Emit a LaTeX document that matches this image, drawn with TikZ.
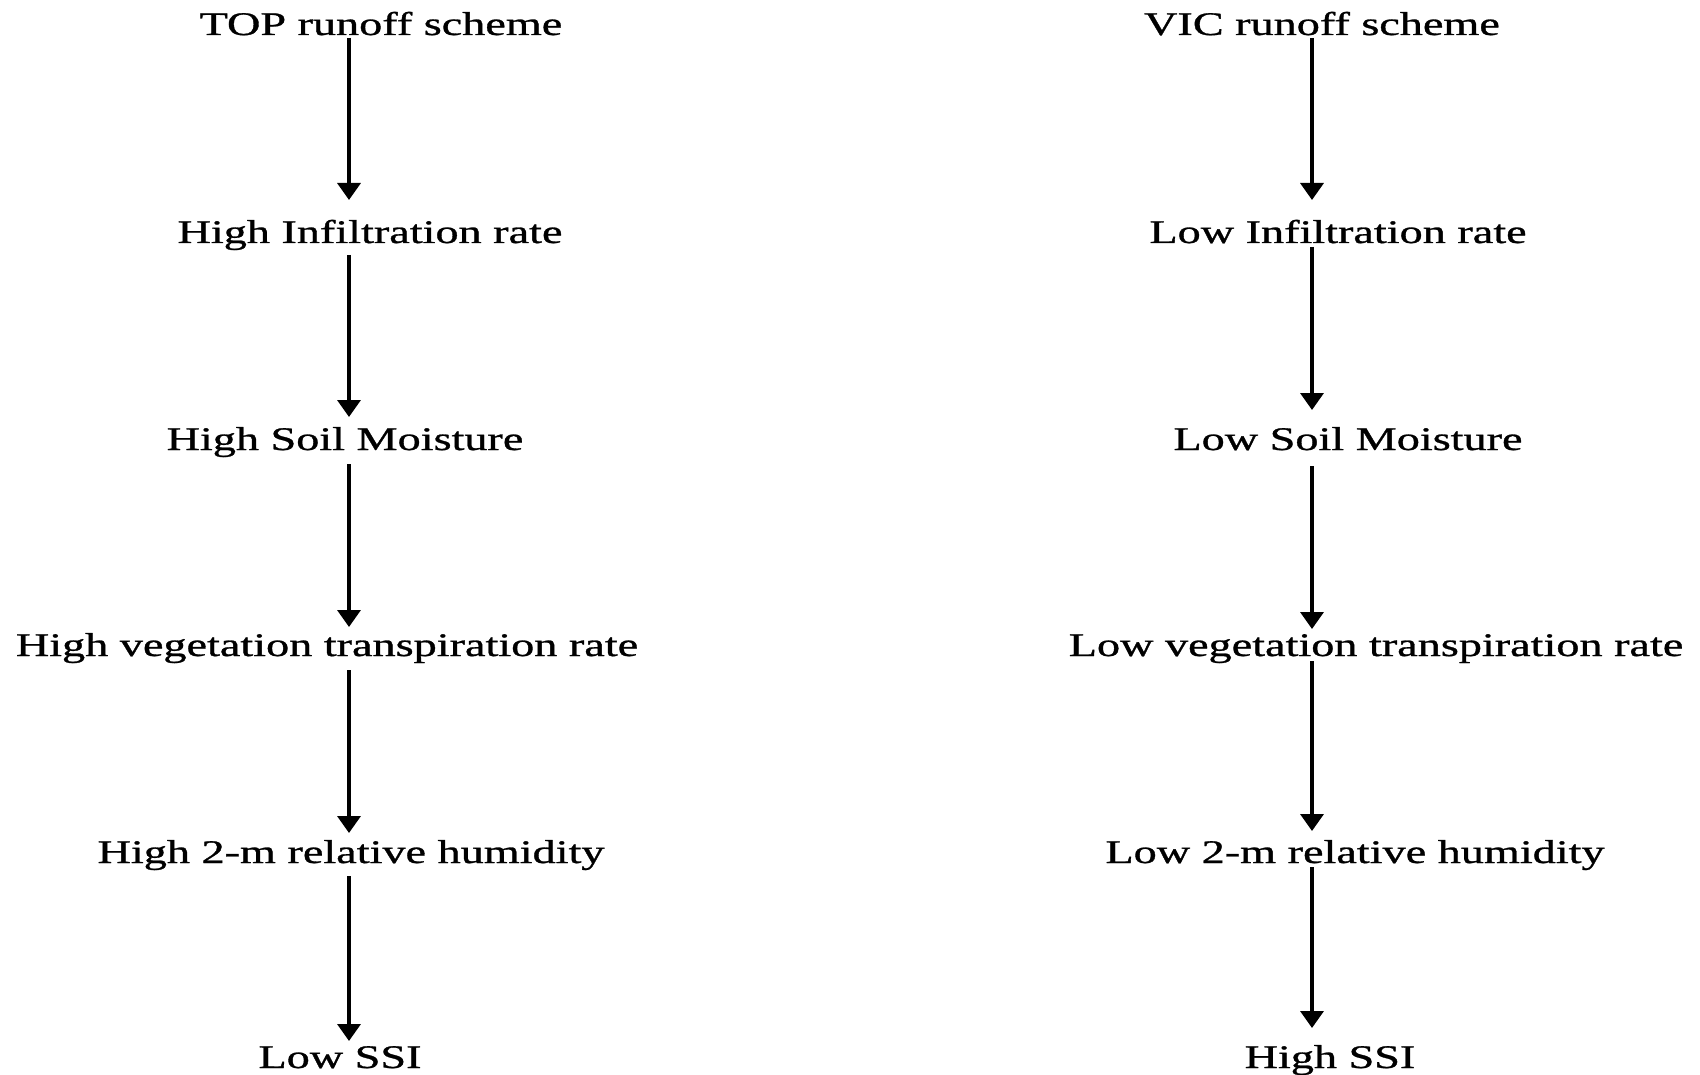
\documentclass[tikz,border=0pt]{standalone}
\usepackage{fontspec}
\setmainfont{Liberation Serif}[FakeBold=0.8]
\usetikzlibrary{arrows.meta,calc}
\newcommand\xwide[1]{\scalebox{1.4}[1]{#1}}
\begin{document}
\begin{tikzpicture}[x=1pt,y=-1pt,
  lbl/.style={anchor=base,inner sep=0pt,font=\fontsize{33}{40}\selectfont},
  arr/.style={line width=3.5pt,-{Triangle[width=23pt,length=17pt]}}]
\useasboundingbox (0,0) rectangle (1700,1075);
\coordinate (L) at (349,0);
\coordinate (R) at (1312,0);
% left column
\node[lbl] (l1) at (381,35)   {\xwide{TOP runoff scheme}};
\node[lbl] (l2) at (370,243)  {\xwide{High Infiltration rate}};
\node[lbl] (l3) at (345,450)  {\xwide{High Soil Moisture}};
\node[lbl] (l4) at (327,656)  {\xwide{High vegetation transpiration rate}};
\node[lbl] (l5) at (351,863)  {\xwide{High 2-m relative humidity}};
\node[lbl] (l6) at (340,1068) {\xwide{Low SSI}};
% right column
\node[lbl] (r1) at (1322,35)   {\xwide{VIC runoff scheme}};
\node[lbl] (r2) at (1338,243)  {\xwide{Low Infiltration rate}};
\node[lbl] (r3) at (1348,450)  {\xwide{Low Soil Moisture}};
\node[lbl] (r4) at (1376,656)  {\xwide{Low vegetation transpiration rate}};
\node[lbl] (r5) at (1355,863)  {\xwide{Low 2-m relative humidity}};
\node[lbl] (r6) at (1330,1068) {\xwide{High SSI}};
% left arrows
\draw[arr] ($(l1.base -| L)+(0,3)$)  -- ($(l2.base -| L)+(0,-43)$);
\draw[arr] ($(l2.base -| L)+(0,12)$) -- ($(l3.base -| L)+(0,-33)$);
\draw[arr] ($(l3.base -| L)+(0,14)$) -- ($(l4.base -| L)+(0,-29)$);
\draw[arr] ($(l4.base -| L)+(0,14)$) -- ($(l5.base -| L)+(0,-30)$);
\draw[arr] ($(l5.base -| L)+(0,13)$) -- ($(l6.base -| L)+(0,-27)$);
% right arrows
\draw[arr] ($(r1.base -| R)+(0,3)$)  -- ($(r2.base -| R)+(0,-43)$);
\draw[arr] ($(r2.base -| R)+(0,4)$)  -- ($(r3.base -| R)+(0,-40)$);
\draw[arr] ($(r3.base -| R)+(0,16)$) -- ($(r4.base -| R)+(0,-27)$);
\draw[arr] ($(r4.base -| R)+(0,5)$)  -- ($(r5.base -| R)+(0,-32)$);
\draw[arr] ($(r5.base -| R)+(0,4)$)  -- ($(r6.base -| R)+(0,-40)$);
\end{tikzpicture}
\end{document}
